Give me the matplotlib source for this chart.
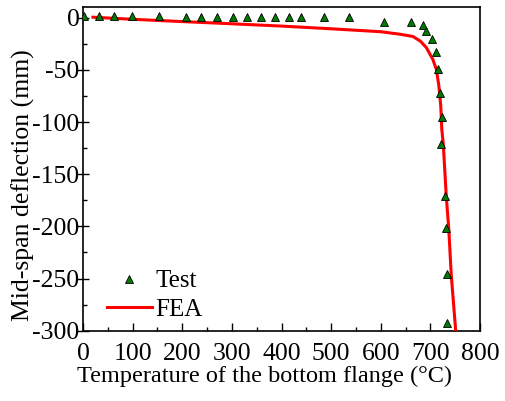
import numpy as np
import matplotlib
matplotlib.use('Agg')
import matplotlib.pyplot as plt
from matplotlib.ticker import MultipleLocator

plt.rcParams['font.family'] = 'serif'
plt.rcParams['font.serif'] = ['Liberation Serif', 'Times New Roman', 'DejaVu Serif']
plt.rcParams['axes.unicode_minus'] = False

# ── Data ──────────────────────────────────────────────────────────
test_temp = [2, 33, 62, 99, 153, 207, 238, 270, 302, 330, 358, 387, 415, 440,
             486, 536, 606, 660, 685, 692, 704, 712, 716, 719, 723, 722,
             730, 732, 734, 733]
test_defl = [1.5, 1.5, 1.5, 1.5, 1.5, 1.0, 1.0, 0.5, 0.5, 0.5, 0.5, 0.5, 0.5, 0.5,
             0.5, 0.5, -4.3, -4.0, -7.2, -13.0, -20.2, -32.7, -49.5, -72.6, -95.4, -120.7,
             -171, -202, -245.7, -292.5]

fea_temp = [20, 100, 200, 300, 400, 500, 600, 640, 665, 680, 692, 705, 712,
            717, 721, 723, 726, 732, 737, 742, 751]
fea_defl = [0.5, -1.5, -3.7, -5.8, -8.0, -10.6, -13.4, -15.9, -18.0, -22.5, -28.7,
            -40.0, -49.5, -65.0, -85.0, -107.0, -121.0, -171.0, -202.0, -246.0, -300.0]

fig = plt.figure(figsize=(5.05, 4.01), dpi=100)
ax = fig.add_axes([0.1644, 0.1753, 0.7861, 0.8065])

ax.plot(test_temp, test_defl, linestyle='none', marker='^', markersize=6,
        markerfacecolor='#007a00', markeredgecolor='black', markeredgewidth=0.6,
        label='Test', zorder=4)
ax.plot(fea_temp, fea_defl, color='#ff0000', lw=2.2, label='FEA', zorder=3)

ax.set_xlim(0, 800)
ax.set_ylim(-300, 10)
ax.xaxis.set_major_locator(MultipleLocator(100))
ax.xaxis.set_minor_locator(MultipleLocator(50))
ax.yaxis.set_major_locator(MultipleLocator(50))
ax.yaxis.set_minor_locator(MultipleLocator(25))

ax.tick_params(axis='x', which='major', direction='in', length=6, width=1,
               labelsize=18.5, pad=8.5)
ax.tick_params(axis='x', which='minor', direction='in', length=3, width=1)
ax.tick_params(axis='y', which='major', direction='inout', length=8, width=1,
               labelsize=18.5, pad=-1.5)
ax.tick_params(axis='y', which='minor', direction='in', length=3, width=1)
for s in ax.spines.values():
    s.set_linewidth(1.2)

ax.set_xlabel('Temperature of the bottom flange (°C)', fontsize=17.5)
ax.set_ylabel('Mid-span deflection (mm)', fontsize=18.5)
ax.xaxis.set_label_coords(0.458, -0.11)
ax.yaxis.set_label_coords(-0.12, 0.45)

ax.legend(loc='lower left', frameon=False, fontsize=18, handlelength=1.8,
          handletextpad=0.15, labelspacing=0.25, borderaxespad=0.0,
          borderpad=0.0, bbox_to_anchor=(0.06, 0.03))

fig.savefig('out.png', dpi=100)
